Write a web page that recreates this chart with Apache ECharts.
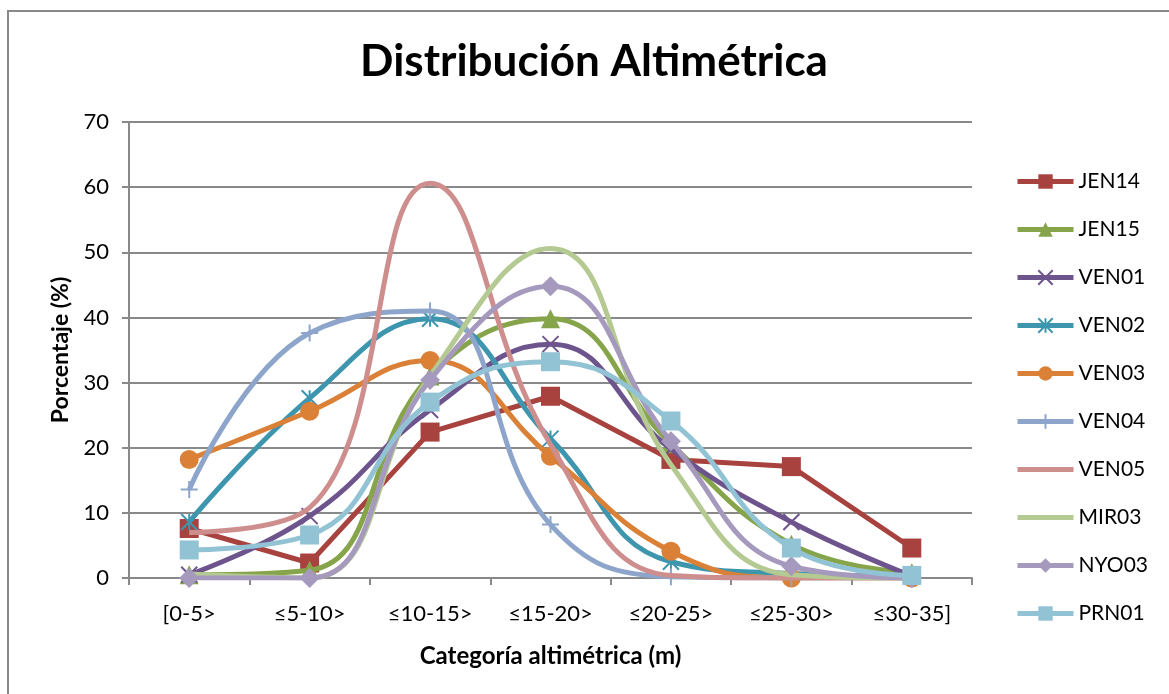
<!DOCTYPE html>
<html>
<head>
<meta charset="utf-8">
<title>Distribución Altimétrica</title>
<script src="https://cdn.jsdelivr.net/npm/echarts@6/dist/echarts.min.js"></script>
<style>
  html, body { margin: 0; padding: 0; background: #fff; }
  #chart { width: 1169px; height: 694px; }
</style>
</head>
<body>
<div id="chart"></div>
<script>
  // categories and series values (%)
  var categories = ['[0-5>', '≤5-10>', '≤10-15>', '≤15-20>', '≤20-25>', '≤25-30>', '≤30-35]'];
  var seriesNames = ['JEN14', 'JEN15', 'VEN01', 'VEN02', 'VEN03', 'VEN04', 'VEN05', 'MIR03', 'NYO03', 'PRN01'];
  var JEN14 = [7.6, 2.3, 22.4, 27.9, 18.2, 17.1, 4.6];
  var JEN15 = [0.5, 1.2, 31.0, 39.8, 20.6, 5.2, 0.8];
  var VEN01 = [0.5, 9.5, 25.8, 35.9, 19.8, 8.6, 0.3];
  var VEN02 = [8.6, 27.6, 39.8, 21.4, 2.5, 0.7, 0.3];
  var VEN03 = [18.2, 25.6, 33.4, 18.7, 4.1, 0, 0];
  var VEN04 = [13.6, 37.6, 41.0, 8.2, 0.2, 0, 0];
  var VEN05 = [7.0, 10.8, 60.6, 20.5, 0.4, 0, 0];
  var MIR03 = [0.6, 0, 31.0, 50.6, 17.4, 0.5, 0];
  var NYO03 = [0, 0, 30.4, 44.8, 21.0, 1.8, 0];
  var PRN01 = [4.3, 6.6, 27.0, 33.2, 24.1, 4.6, 0.4];
  var yTicks = { min: 0, max: 70, interval: 10 };

  var values = [JEN14, JEN15, VEN01, VEN02, VEN03, VEN04, VEN05, MIR03, NYO03, PRN01];
  var colors = ['#A8423F', '#86A44A', '#6E548D', '#3D96AE', '#DA8137', '#8EA5CB', '#CE8E8D', '#B5CA92', '#A599BD', '#92C3D4'];
  var symbols = [
    'rect',
    'triangle',
    'path://M0,0L10,10M10,0L0,10',
    'path://M5,0L5,10M0,0L10,10M10,0L0,10',
    'circle',
    'path://M5,0L5,10M0,5L10,5',
    'none',
    'none',
    'diamond',
    'rect'
  ];
  var sizes = [19, 19, 16, 16, 19, 17, 0, 0, 20, 19];
  var strokeOnly = [false, false, true, true, false, true, false, false, false, false];
  var smoothed = [false, true, true, true, true, true, true, true, true, true];

  var FONT = 'Lato, "Open Sans", sans-serif';
  var gray = '#898989';

  var series = seriesNames.map(function(name, i){
    var item = strokeOnly[i]
      ? { color: colors[i], borderColor: colors[i], borderWidth: 2 }
      : { color: colors[i], borderWidth: 0 };
    return {
      name: name,
      type: 'line',
      data: values[i],
      smooth: smoothed[i] ? 0.45 : false,
      symbol: symbols[i],
      symbolSize: sizes[i],
      showSymbol: symbols[i] !== 'none',
      lineStyle: { color: colors[i], width: 5 },
      itemStyle: item,
      clip: true,
      z: 2 + i
    };
  });

  // series without markers get a plain line in the legend
  var legendData = seriesNames.map(function(name, i){
    if(symbols[i] !== 'none') return name;
    return { name: name, itemStyle: { opacity: 0 } };
  });

  var chart = echarts.init(document.getElementById('chart'), null, { renderer: 'canvas' });
  chart.setOption({
    animation: false,
    backgroundColor: '#fff',
    title: {
      text: 'Distribución Altimétrica',
      left: 589,
      textAlign: 'center',
      top: 35,
      textStyle: { fontFamily: FONT, fontSize: 44, fontWeight: 'bold', color: '#000' }
    },
    graphic: [{
      type: 'rect',
      shape: { x: 8, y: 11, width: 1200, height: 760 },
      style: { fill: 'none', stroke: gray, lineWidth: 2 },
      silent: true
    }],
    legend: {
      orient: 'vertical',
      left: 1010,
      top: 166,
      itemWidth: 56,
      itemHeight: 18,
      itemGap: 27,
      data: legendData,
      lineStyle: { width: 5 },
      textStyle: { fontFamily: FONT, fontSize: 21, color: '#000' }
    },
    grid: { left: 129, right: 197, top: 122, bottom: 116, containLabel: false },
    xAxis: {
      type: 'category',
      data: categories,
      boundaryGap: true,
      name: 'Categoría altimétrica (m)',
      nameLocation: 'middle',
      nameGap: 78,
      nameTextStyle: { fontFamily: FONT, fontSize: 24, fontWeight: 'bold', color: '#000', verticalAlign: 'middle' },
      axisLine: { lineStyle: { color: gray, width: 2 } },
      axisTick: { show: true, length: 7, interval: 0, lineStyle: { color: gray, width: 2 } },
      axisLabel: { fontFamily: FONT, fontSize: 22, color: '#000', margin: 25, interval: 0 },
      splitLine: { show: false }
    },
    yAxis: {
      type: 'value',
      min: yTicks.min,
      max: yTicks.max,
      interval: yTicks.interval,
      name: 'Porcentaje (%)',
      nameLocation: 'middle',
      nameGap: 68,
      nameTextStyle: { fontFamily: FONT, fontSize: 23, fontWeight: 'bold', color: '#000', verticalAlign: 'middle' },
      axisLine: { show: true, lineStyle: { color: gray, width: 2 } },
      axisTick: { show: true, length: 7, lineStyle: { color: gray, width: 2 } },
      axisLabel: { fontFamily: FONT, fontSize: 22, color: '#000', margin: 20 },
      splitLine: { show: true, lineStyle: { color: gray, width: 2 } }
    },
    series: series
  });
</script>
</body>
</html>
